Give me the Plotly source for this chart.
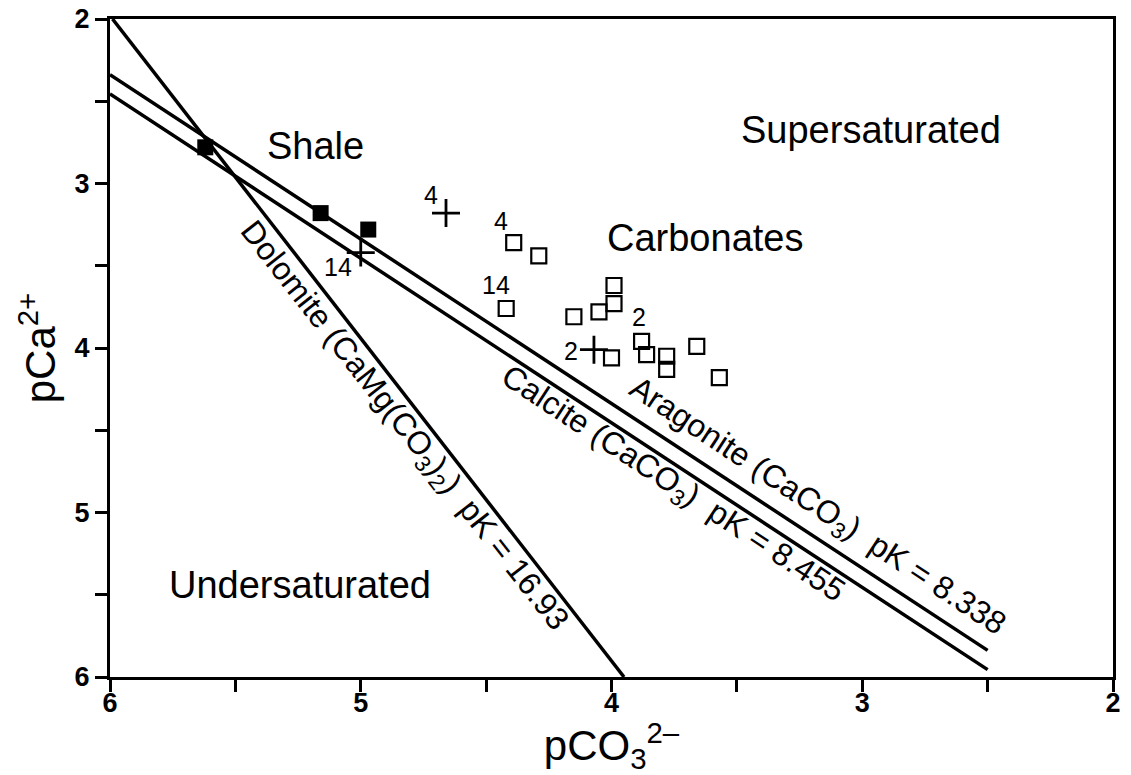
import plotly.graph_objects as go

# ---- data ----
dolomite_x = [5.99, 3.95]
dolomite_y = [2.0, 6.0]
calcite_x = [6.0, 2.5]
calcite_y = [2.455, 5.955]
aragonite_x = [6.0, 2.5]
aragonite_y = [2.338, 5.838]

carb_x = [4.39, 4.29, 4.42, 4.15, 4.05, 3.99, 3.99, 3.88, 4.00, 3.86, 3.78, 3.78, 3.66, 3.57]
carb_y = [3.36, 3.44, 3.76, 3.81, 3.78, 3.62, 3.73, 3.96, 4.06, 4.04, 4.05, 4.13, 3.99, 4.18]

shale_x = [5.62, 5.16, 4.97]
shale_y = [2.78, 3.18, 3.28]

cross_x = [4.66, 5.00, 4.07]
cross_y = [3.18, 3.42, 4.01]

num_labels = ["4", "4", "14", "14", "2", "2"]
num_x = [4.72, 4.44, 4.46, 5.09, 3.89, 4.16]
num_y = [3.07, 3.23, 3.62, 3.51, 3.81, 4.02]

region_labels = ["Shale", "Supersaturated", "Carbonates", "Undersaturated"]
region_x = [5.18, 2.965, 3.627, 5.242]
region_y = [2.77, 2.675, 3.331, 5.44]

line_labels = [
    "Dolomite (CaMg(CO<sub>3</sub>)<sub>2</sub>)  pK = 16.93",
    "Calcite (CaCO<sub>3</sub>)  pK = 8.455",
    "Aragonite (CaCO<sub>3</sub>)  pK = 8.338",
]
line_label_x = [4.832, 3.755, 3.180]
line_label_y = [4.480, 4.833, 4.967]
line_label_angle = [51.9, 33.3, 33.3]

x_ticks = [6, 5, 4, 3, 2]
y_ticks = [2, 3, 4, 5, 6]

FONT = "Liberation Sans, Arial, Helvetica, sans-serif"
NARROW = "Liberation Sans Narrow, Arial Narrow, " + FONT

fig = go.Figure()
for xs, ys in [(dolomite_x, dolomite_y), (calcite_x, calcite_y), (aragonite_x, aragonite_y)]:
    fig.add_trace(go.Scatter(x=xs, y=ys, mode="lines",
                             line=dict(color="black", width=3.5),
                             showlegend=False, hoverinfo="skip"))

fig.add_trace(go.Scatter(x=carb_x, y=carb_y, mode="markers",
                         marker=dict(symbol="square-open", size=15, color="black",
                                     line=dict(width=2.2, color="black")),
                         showlegend=False))
fig.add_trace(go.Scatter(x=shale_x, y=shale_y, mode="markers",
                         marker=dict(symbol="square", size=16, color="black"),
                         showlegend=False))
fig.add_trace(go.Scatter(x=cross_x, y=cross_y, mode="markers",
                         marker=dict(symbol="cross-thin", size=20, color="black",
                                     line=dict(width=2.8, color="black")),
                         showlegend=False))

for t, x, y in zip(num_labels, num_x, num_y):
    fig.add_annotation(x=x, y=y, text=t, showarrow=False,
                       font=dict(family=FONT, size=25, color="black"))

for t, x, y in zip(region_labels, region_x, region_y):
    fig.add_annotation(x=x, y=y, text=t, showarrow=False,
                       font=dict(family=FONT, size=38, color="black"))

for t, x, y, a in zip(line_labels, line_label_x, line_label_y, line_label_angle):
    fig.add_annotation(x=x, y=y, text=t, showarrow=False, textangle=a,
                       font=dict(family=FONT, size=32, color="black"))

axis_common = dict(
    showline=True, linewidth=3, linecolor="black", mirror=True,
    ticks="outside", ticklen=12, tickwidth=3, tickcolor="black",
    showgrid=False, zeroline=False, automargin=False,
    ticklabeloverflow="allow",
    tickfont=dict(family=FONT, size=27, color="black", weight="bold"),
    minor=dict(dtick=0.5, ticks="outside", ticklen=12, tickwidth=3, tickcolor="black",
               showgrid=False),
)

fig.update_xaxes(range=[6, 2], tickvals=x_ticks, ticktext=[str(v) for v in x_ticks],
                 ticklabelstandoff=-12,
                 title=dict(text="pCO<sub>3</sub><sup>2\u2013</sup>",
                            font=dict(family=NARROW, size=42, color="black"),
                            standoff=12),
                 **axis_common)
fig.update_yaxes(range=[6, 2], tickvals=y_ticks, ticktext=[str(v) for v in y_ticks],
                 title=dict(text="pCa<sup>2+</sup>",
                            font=dict(family=NARROW, size=42, color="black"),
                            standoff=6),
                 **axis_common)

# the page adds an 8px body margin, so the figure is sized/offset to compensate
fig.update_layout(
    width=1123, height=767,
    margin=dict(l=102, r=18, t=11, b=98),
    paper_bgcolor="white", plot_bgcolor="white",
    showlegend=False,
)

fig.write_html("out.html")
